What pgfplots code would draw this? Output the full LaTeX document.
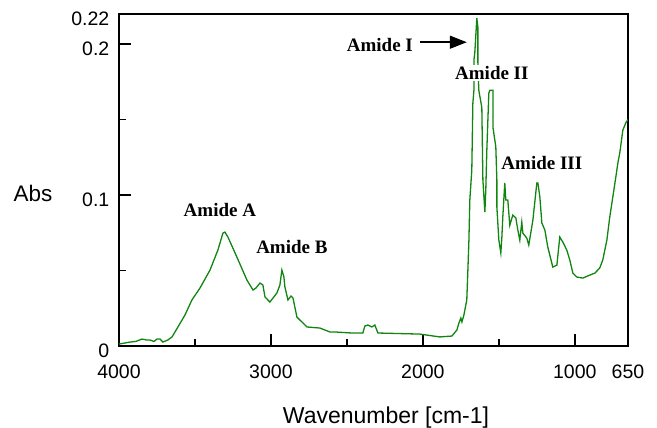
\documentclass[border=0pt]{standalone}
\usepackage{pgfplots}
\pgfplotsset{compat=1.18}
\usepackage{fontspec}
\setmainfont{Liberation Sans}
\newfontfamily\annfont{Liberation Serif}
\usetikzlibrary{arrows.meta}
\definecolor{specgreen}{RGB}{16,134,16}

\begin{document}
\begin{tikzpicture}
\begin{axis}[
  at={(0,0)}, anchor=south west,
  scale only axis,
  width=509pt, height=332pt,
  xmin=650, xmax=4000, ymin=0, ymax=0.22,
  x dir=reverse,
  axis line style={line width=1.8pt},
  tick style={line width=1.5pt, black},
  major tick length=12pt, minor tick length=7pt,
  tick align=inside,
  xtick pos=bottom, ytick pos=left,
  xtick={650,1000,2000,3000,4000},
  xticklabels={650,1000,2000,3000,4000},
  minor xtick={1500,2500,3500},
  ytick={0,0.1,0.2,0.22},
  yticklabels={0,0.1,0.2,0.22},
  minor ytick={0.05,0.15},
  ticklabel style={font=\fontsize{19.5}{20}\selectfont, inner sep=1pt},
  xticklabel style={yshift=-17.5pt},
  yticklabel style={xshift=-8.5pt, yshift=-5pt},
  every axis x label/.style={at={(rel axis cs:0.5246,-0.2169)}, anchor=center, font=\fontsize{23}{24}\selectfont},
  every axis y label/.style={at={(rel axis cs:-0.169,0.458)}, anchor=center, font=\fontsize{22.5}{24}\selectfont},
  xlabel={Wavenumber [cm-1]},
  ylabel={Abs},
]

% absorbance spectrum
\addplot[specgreen, line width=1.3pt, mark=none] coordinates {
  (4000,0.0013) (3960,0.0020) (3928,0.0026) (3890,0.0030) (3849,0.0046)
  (3820,0.0040) (3796,0.0040) (3770,0.0030) (3750,0.0046) (3730,0.0046)
  (3711,0.0026) (3678,0.0040) (3651,0.0060) (3612,0.0126) (3566,0.0205)
  (3520,0.0305) (3467,0.0384) (3401,0.0503) (3349,0.0636) (3316,0.0748)
  (3303,0.0755) (3283,0.0722) (3224,0.0589) (3158,0.0437) (3118,0.0371)
  (3099,0.0384) (3072,0.0417) (3053,0.0404) (3039,0.0325) (3007,0.0291)
  (2961,0.0351) (2941,0.0404) (2928,0.0503) (2915,0.0460) (2908,0.0391)
  (2888,0.0305) (2868,0.0331) (2855,0.0318) (2829,0.0192) (2763,0.0126)
  (2678,0.0119) (2612,0.0093) (2579,0.0093) (2467,0.0086) (2395,0.0086)
  (2382,0.0132) (2362,0.0139) (2336,0.0126) (2316,0.0139) (2296,0.0086)
  (2020,0.0079) (1888,0.0060) (1809,0.0066) (1776,0.0106) (1763,0.0152)
  (1750,0.0185) (1743,0.0159) (1730,0.0205) (1711,0.0305) (1704,0.0497)
  (1697,0.0700) (1691,0.0967) (1678,0.1166) (1671,0.1610) (1664,0.1695)
  (1664,0.1894) (1658,0.1947) (1645,0.2172) (1638,0.2113) (1638,0.1880)
  (1632,0.1695) (1612,0.1580) (1605,0.1100) (1592,0.0887) (1586,0.1030)
  (1579,0.1300) (1566,0.1675) (1559,0.1695) (1539,0.1695) (1539,0.1450)
  (1520,0.1320) (1513,0.1100) (1513,0.0920) (1500,0.0702) (1487,0.0616)
  (1480,0.0722) (1474,0.0854) (1461,0.1080) (1454,0.0967) (1441,0.0967)
  (1428,0.0800) (1408,0.0868) (1388,0.0848) (1375,0.0768) (1362,0.0702)
  (1349,0.0821) (1342,0.0748) (1316,0.0715) (1303,0.0669) (1276,0.0834)
  (1250,0.1080) (1243,0.1080) (1230,0.0987) (1217,0.0815) (1197,0.0768)
  (1178,0.0656) (1145,0.0523) (1118,0.0536) (1099,0.0722) (1079,0.0689)
  (1053,0.0636) (1033,0.0570) (1013,0.0483) (987,0.0457) (947,0.0450)
  (901,0.0470) (868,0.0483) (836,0.0517) (816,0.0570) (789,0.0702)
  (770,0.0854) (750,0.0987) (730,0.1120) (717,0.1210) (704,0.1280)
  (684,0.1430) (664,0.1480) (650,0.1500)
};

% band labels
\node[font={\annfont\bfseries\fontsize{19}{19}\selectfont}, fill=white, inner sep=1pt] at (axis cs:3336,0.0900) {Amide A};
\node[font={\annfont\bfseries\fontsize{19}{19}\selectfont}, fill=white, inner sep=1pt] at (axis cs:2862,0.0656) {Amide B};
\node[font={\annfont\bfseries\fontsize{19}{19}\selectfont}, fill=white, inner sep=1pt] at (axis cs:2283,0.1993) {Amide I};
\node[font={\annfont\bfseries\fontsize{19}{19}\selectfont}, fill=white, inner sep=1pt] at (axis cs:1546,0.1808) {Amide II};
\node[font={\annfont\bfseries\fontsize{19}{19}\selectfont}, inner sep=1pt] at (axis cs:1217,0.1212) {Amide III};
\draw[line width=1.5pt, -{Triangle[length=17pt,width=13pt]}] (axis cs:2020,0.2013) -- (axis cs:1711,0.2013);
\end{axis}
\pgfresetboundingbox
\path[use as bounding box] (-119pt,-82pt) rectangle (538pt,346pt);
\end{tikzpicture}
\end{document}
